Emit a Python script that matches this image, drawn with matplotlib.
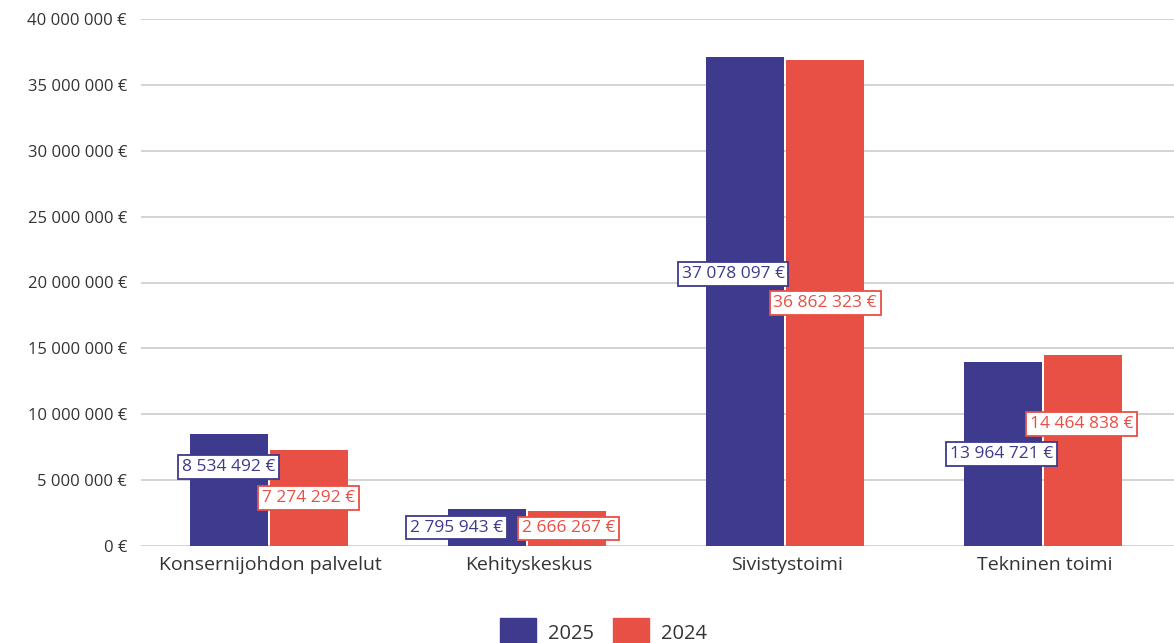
import matplotlib.pyplot as plt
from matplotlib.patches import Patch
from matplotlib.ticker import FuncFormatter
import numpy as np

plt.rcParams['font.family'] = ['Open Sans', 'DejaVu Sans']

# Data
categories = ["Konsernijohdon palvelut", "Kehityskeskus", "Sivistystoimi", "Tekninen toimi"]
values_2025 = [8534492, 2795943, 37078097, 13964721]
values_2024 = [7274292, 2666267, 36862323, 14464838]

blue = "#3e3a8d"
red = "#e84f45"


def euro(v, pos=None):
    return f"{int(round(v)):,}".replace(",", " ") + " €"


fig = plt.figure(figsize=(11.74, 6.43), dpi=100)
ax = fig.add_axes([141 / 1174, 1 - 546 / 643, 1 - 141 / 1174, (546 - 19) / 643])

x = np.arange(len(categories))
w = 0.302
gap = 0.004
bars_25 = ax.bar(x - w / 2 - gap - 0.006, values_2025, w, color=blue, zorder=3)
bars_24 = ax.bar(x + w / 2 + gap - 0.006, values_2024, w, color=red, zorder=3)

ax.set_xlim(-0.5, len(categories) - 0.5)
ax.set_ylim(0, 40e6)
ax.set_yticks(np.arange(0, 40e6 + 1, 5e6))
ax.yaxis.set_major_formatter(FuncFormatter(euro))
ax.grid(axis="y", color="#cccccc", linewidth=1.2, zorder=0)
ax.set_axisbelow(True)
for s in ax.spines.values():
    s.set_visible(False)
ax.tick_params(axis="y", length=0, pad=10, labelsize=12, labelcolor="#333333")
ax.tick_params(axis="x", length=0, pad=7, labelsize=14, labelcolor="#333333")
ax.set_xticks(x)
ax.set_xticklabels(categories)

# Value labels in the middle of each bar, nudged apart where they collide
offsets_25 = [(0, 23), (-30, 0), (-12, 28), (-2, 0)]
offsets_24 = [(0, 0), (2, 0), (0, 0), (-2, 27)]


def label(bars, vals, offs, color):
    for b, v, (dx, dy) in zip(bars, vals, offs):
        ax.annotate(euro(v), (b.get_x() + b.get_width() / 2, v / 2),
                    xytext=(dx * 0.72, dy * 0.72), textcoords="offset points",
                    ha="center", va="center", fontsize=12.5, color=color, zorder=5,
                    bbox=dict(boxstyle="square,pad=0.22", fc="white", ec=color, lw=1.3))


label(bars_25, values_2025, offsets_25, blue)
label(bars_24, values_2024, offsets_24, red)

handles = [Patch(color=blue, label="2025"), Patch(color=red, label="2024")]
fig.legend(handles=handles, loc="upper center", bbox_to_anchor=(0.514, 1 - 600 / 643),
           ncol=2, frameon=False, fontsize=14.5, handlelength=1.8, handleheight=1.9,
           columnspacing=0.95, handletextpad=0.6, labelcolor="#333333")

fig.savefig("out.png", dpi=100)
